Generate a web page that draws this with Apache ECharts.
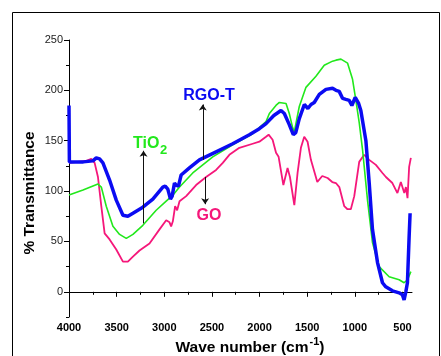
<!DOCTYPE html>
<html>
<head>
<meta charset="utf-8">
<script src="https://cdn.jsdelivr.net/npm/echarts@6/dist/echarts.min.js"></script>
<style>html,body{margin:0;padding:0;background:#fff;}#c{width:441px;height:356px;}</style>
</head>
<body>
<div id="c"></div>
<script>
// ---- data (wavenumber cm-1, % transmittance) ----
const goWN = [4000,3818,3766,3731,3696,3661,3626,3574,3504,3434,3382,3329,3260,3155,3050,2980,2945,2928,2910,2886,2865,2840,2770,2666,2561,2456,2386,2317,2212,2072,2002,1932,1905,1863,1827,1800,1750,1706,1681,1635,1601,1566,1531,1496,1461,1409,1394,1342,1286,1237,1199,1163,1111,1077,1059,1042,1006,954,902,849,779,710,674,606,553,517,481,464,447,430,412];
const goT  = [128,130,132,128,114,85,58,52,42,30,30,35,41,48,62,71,69,65,70,85,81,90,95,106,114,121,128,136,143,147,149,154,156,151,138,134,106,123,114,86,118,143,154,149,131,114,109,115,113,109,108,104,85,82,81,82,95,129,136,131,126,118,114,108,98,109,98,104,93,124,133];

const tiWN = [4000,3853,3696,3661,3609,3539,3469,3399,3329,3225,3085,2980,2910,2840,2701,2491,2282,2072,1932,1897,1828,1792,1722,1688,1653,1635,1583,1513,1408,1321,1234,1198,1146,1076,1024,989,954,919,867,815,745,640,535,483,447,412];
const tiT  = [96,101,107,104,85,65,57,53,57,66,81,90,96,104,118,134,146,157,169,177,185,188,187,177,163,159,184,203,214,225,229,230,231,227,211,190,168,141,91,49,25,15,12,9,12,20];

const rgoWN = [4000,3996,3850,3749,3714,3679,3644,3574,3504,3434,3382,3329,3225,3120,3015,2990,2963,2935,2917,2893,2875,2851,2823,2736,2631,2456,2282,2107,2002,1932,1850,1775,1740,1688,1646,1620,1583,1530,1493,1460,1426,1373,1303,1234,1198,1164,1128,1094,1059,1031,996,960,937,884,849,815,762,710,675,605,535,500,483,465,448,430,420];
const rgoT  = [185,129,129,130,133,132,128,111,91,76,75,78,84,92,104,105,102,92,95,108,106,105,116,123,131,139,147,156,162,167,175,180,177,166,156,158,172,186,182,186,188,196,201,202,200,199,192,191,190,185,193,187,180,150,108,62,29,9,5,1,-1,-3,-8,0,9,55,78];

const xLabelVals = [500,1000,1500,2000,2500,3000,3500,4000];
const xMinorVals = [750,1250,1750,2250,2750,3250,3750];
const yLabelVals = [0,50,100,150,200,250];
const yMinorVals = [-25,25,75,125,175,225];

// annotation arrows: [wavenumber, from, to]
const arrows = [[3218,68,140],[2596,131,186],[2571,114,87]];

const pairs = (w, t) => w.map((v, i) => [v, t[i]]);

const BLUE = '#0b0bf2', GREEN = '#22e81c', PINK = '#f5177a';
const FONT = '"Liberation Sans", Arial, sans-serif';

const chart = echarts.init(document.getElementById('c'), null, {renderer: 'canvas'});

const xBase = {type:'value', inverse:true, min:400, max:4000, splitLine:{show:false}, gridIndex:0, position:'bottom'};
const yBase = {type:'value', min:-25, max:250, splitLine:{show:false}, gridIndex:0, position:'left'};

chart.setOption({
  animation:false,
  backgroundColor:'#fff',
  grid:{left:69, right:29, top:40, bottom:39, containLabel:false},
  xAxis:[
    Object.assign({}, xBase, {
      axisLine:{show:true, lineStyle:{color:'#000', width:1}},
      axisTick:{show:true, customValues:xLabelVals, length:5, lineStyle:{color:'#000'}},
      axisLabel:{show:true, customValues:xLabelVals, formatter:v => String(v), color:'#000', fontSize:11, fontWeight:'bold', fontFamily:FONT, margin:5}
    }),
    Object.assign({}, xBase, {
      axisLine:{show:false},
      axisTick:{show:true, customValues:xMinorVals, length:3, lineStyle:{color:'#000'}},
      axisLabel:{show:false}
    })
  ],
  yAxis:[
    Object.assign({}, yBase, {
      axisLine:{show:true, lineStyle:{color:'#000', width:1}},
      axisTick:{show:true, customValues:yLabelVals, length:5, lineStyle:{color:'#000'}},
      axisLabel:{show:true, customValues:yLabelVals, formatter:v => String(v), color:'#222', fontSize:11, fontFamily:FONT, margin:6}
    }),
    Object.assign({}, yBase, {
      axisLine:{show:false},
      axisTick:{show:true, customValues:yMinorVals, length:3, lineStyle:{color:'#000'}},
      axisLabel:{show:false}
    })
  ],
  series:[
    {name:'GO', type:'line', data:pairs(goWN, goT), showSymbol:false, symbol:'none',
     lineStyle:{color:PINK, width:1.8}, itemStyle:{color:PINK}},
    {name:'TiO2', type:'line', data:pairs(tiWN, tiT), showSymbol:false, symbol:'none',
     lineStyle:{color:GREEN, width:1.6}, itemStyle:{color:GREEN}},
    {name:'RGO-T', type:'line', data:pairs(rgoWN, rgoT), showSymbol:false, symbol:'none',
     lineStyle:{color:BLUE, width:3.5}, itemStyle:{color:BLUE},
     markLine:{
       silent:true, symbol:['none','arrow'], symbolSize:6, animation:false,
       label:{show:false},
       lineStyle:{color:'#111', width:1, type:'solid'},
       emphasis:{disabled:true},
       data: arrows.map(a => [{coord:[a[0], a[1]]}, {coord:[a[0], a[2]]}])
     }}
  ],
  graphic:[
    {type:'rect', silent:true, shape:{x:12.5, y:12.5, width:427, height:400},
     style:{fill:'none', stroke:'#000', lineWidth:1}},
    {type:'text', silent:true, x:209, y:96,
     style:{text:'RGO-T', fill:BLUE, font:'bold 16px '+FONT, textAlign:'center', textVerticalAlign:'middle'}},
    {type:'text', silent:true, x:209, y:216,
     style:{text:'GO', fill:PINK, font:'bold 16px '+FONT, textAlign:'center', textVerticalAlign:'middle'}},
    {type:'text', silent:true, x:133, y:144,
     style:{text:'TiO', fill:GREEN, font:'bold 16px '+FONT, textAlign:'left', textVerticalAlign:'middle'}},
    {type:'text', silent:true, x:160, y:150,
     style:{text:'2', fill:GREEN, font:'bold 13px '+FONT, textAlign:'left', textVerticalAlign:'middle'}},
    {type:'text', silent:true, x:250, y:346,
     style:{text:'{a|Wave number (cm}{s|-1}{a|)}', fill:'#000', textAlign:'center', textVerticalAlign:'middle',
            rich:{a:{fontSize:15.5, fontWeight:'bold', fontFamily:FONT, fill:'#000', verticalAlign:'bottom'},
                  s:{fontSize:11, fontWeight:'bold', fontFamily:FONT, fill:'#000', verticalAlign:'bottom', padding:[0,0,9,1]}}}},
    {type:'text', silent:true, x:30, y:193, rotation:Math.PI/2,
     style:{text:'% Transmittance', fill:'#000', font:'bold 15.5px '+FONT, textAlign:'center', textVerticalAlign:'middle'}}
  ]
});
</script>
</body>
</html>
